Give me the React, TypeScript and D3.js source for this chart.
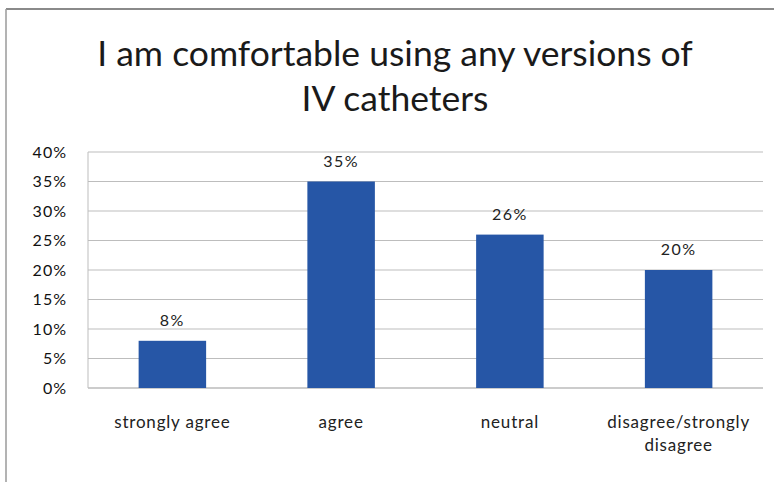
import React from "react";
import * as d3 from "d3";

const categories = ["strongly agree", "agree", "neutral", "disagree/strongly disagree"];
const categoryLines = [["strongly agree"], ["agree"], ["neutral"], ["disagree/strongly", "disagree"]];
const values = [8, 35, 26, 20];
const yTicks = [0, 5, 10, 15, 20, 25, 30, 35, 40];
const titleLines = ["I am comfortable using any versions of", "IV catheters"];

export default function App() {
  const W = 774, H = 482;
  const left = 88, right = 763, top = 152, bottom = 388;
  const x = d3.scaleBand<string>().domain(categories).range([left, right]).padding(0);
  const y = d3.scaleLinear().domain([0, 40]).range([bottom, top]);
  const bw = x.bandwidth() * 0.4;
  const font = "Lato, 'Open Sans', sans-serif";
  return (
    <svg width={W} height={H} style={{ position: "absolute", left: 0, top: 0, background: "#fff" }}>
      <line x1={6} y1={9} x2={W} y2={9} stroke="#8a8a8a" strokeWidth={2} />
      <line x1={6} y1={9} x2={6} y2={H} stroke="#9a9a9a" strokeWidth={1.5} />
      {titleLines.map((t, i) => (
        <text key={t} x={395} y={66 + i * 45} textAnchor="middle" fontFamily={font} fontSize={35.5} fill="#1a1a1a">{t}</text>
      ))}
      {yTicks.map((t) => (
        <g key={t}>
          <line x1={left} x2={right} y1={y(t)} y2={y(t)} stroke={t === 0 ? "#999" : "#bdbdbd"} strokeWidth={1.2} />
          <text x={67} y={y(t) + 5.5} textAnchor="end" fontFamily={font} fontSize={16} letterSpacing={1} fill="#111">{t}%</text>
        </g>
      ))}
      <line x1={left} x2={left} y1={top} y2={bottom} stroke="#bdbdbd" strokeWidth={1} />
      {categories.map((c, i) => {
        const cx = (x(c) as number) + x.bandwidth() / 2;
        return (
          <g key={c}>
            <rect x={cx - bw / 2} y={y(values[i])} width={bw} height={bottom - y(values[i])} fill="#2656a6" />
            <text x={cx} y={y(values[i]) - 15} textAnchor="middle" fontFamily={font} fontSize={16} letterSpacing={1.5} fill="#222">{values[i]}%</text>
            {categoryLines[i].map((l, j) => (
              <text key={l} x={cx} y={428 + j * 23} textAnchor="middle" fontFamily={font} fontSize={17} letterSpacing={0.8} fill="#222">{l}</text>
            ))}
          </g>
        );
      })}
    </svg>
  );
}
